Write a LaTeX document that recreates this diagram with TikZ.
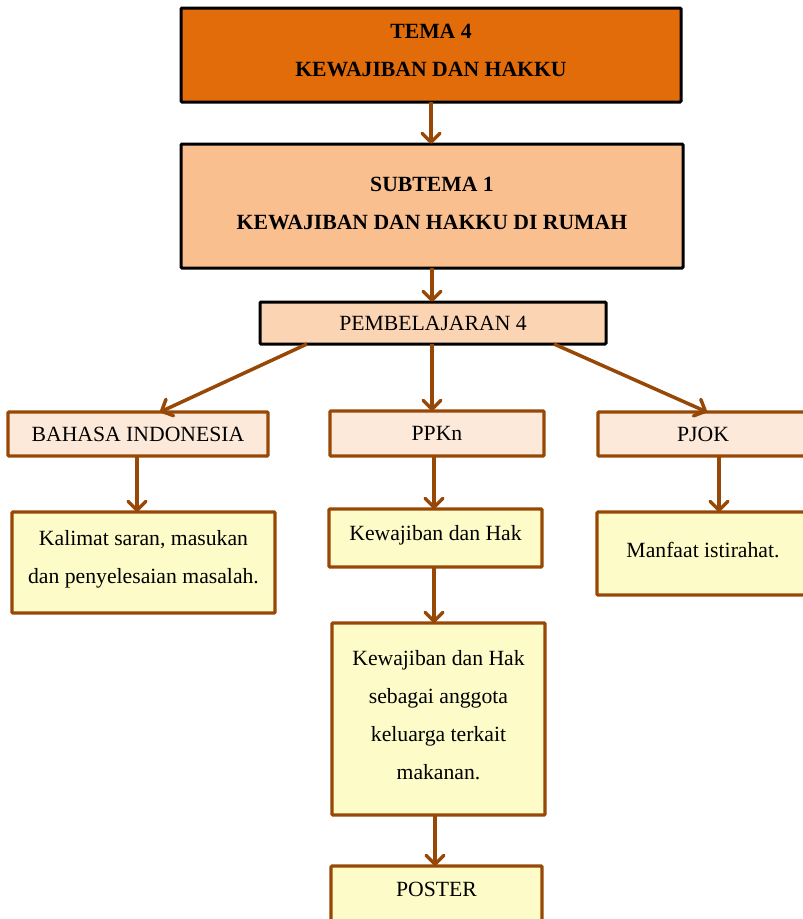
\documentclass[tikz,border=0pt]{standalone}
\usepackage{fontspec}
\setmainfont{Liberation Serif}
\usetikzlibrary{arrows.meta}
\definecolor{temaor}{HTML}{E36C0A}
\definecolor{subor}{HTML}{FABF8F}
\definecolor{pembor}{HTML}{FBD4B4}
\definecolor{mapel}{HTML}{FDE9D9}
\definecolor{isi}{HTML}{FDFBC8}
\definecolor{coklat}{HTML}{974806}
\begin{document}
\begin{tikzpicture}[x=1pt,y=-1pt,
  box/.style={rectangle, inner sep=0pt, outer sep=0pt, align=center, rounded corners=1pt,
    font=\fontsize{21.7}{37.7}\selectfont, text=black},
  topbox/.style={box, draw=black, line width=3pt},
  subbox/.style={box, draw=coklat, line width=3.2pt},
  arr/.style={draw=coklat, line width=3.5pt, -{Straight Barb[length=9pt,width=18pt,round]}}
]
\useasboundingbox (0,0) rectangle (803,919);
\fill[white] (0,0) rectangle (803,919);

\node[topbox, fill=temaor, minimum width=500pt, minimum height=94pt, text depth=10pt] (tema) at (431,55)
  {\bfseries TEMA 4\\\bfseries KEWAJIBAN DAN HAKKU};
\node[topbox, fill=subor, minimum width=502pt, minimum height=124pt, text depth=6pt] (sub) at (432,206)
  {\bfseries SUBTEMA 1\\\bfseries KEWAJIBAN DAN HAKKU DI RUMAH};
\node[topbox, fill=pembor, minimum width=346pt, minimum height=42pt, text depth=-4pt] (pemb) at (433,323)
  {PEMBELAJARAN 4};

\node[subbox, fill=mapel, minimum width=260pt, minimum height=44pt] (bi) at (138,434)
  {BAHASA INDONESIA};
\node[subbox, fill=mapel, minimum width=214pt, minimum height=45pt] (ppkn) at (437,433.5)
  {PPKn};
\node[subbox, fill=mapel, minimum width=210pt, minimum height=44pt] (pjok) at (703,434)
  {PJOK};

\node[subbox, fill=isi, minimum width=263pt, minimum height=101pt, text depth=10.7pt] (kal) at (143.5,562.5)
  {Kalimat saran, masukan\\dan penyelesaian masalah.};
\node[subbox, fill=isi, minimum width=213pt, minimum height=58pt, text depth=10.7pt] (kh) at (435.5,538)
  {Kewajiban dan Hak};
\node[subbox, fill=isi, minimum width=213pt, minimum height=192pt, text depth=8pt] (kb) at (438.5,719)
  {Kewajiban dan Hak\\sebagai anggota\\keluarga terkait\\makanan.};
\node[subbox, fill=isi, minimum width=212pt, minimum height=83pt, text depth=8pt] (man) at (703,553.5)
  {Manfaat istirahat.};
\node[subbox, fill=isi, minimum width=211pt, minimum height=84pt, text depth=38pt] (pos) at (436.5,908)
  {POSTER};

\draw[arr] (tema.south) -- (tema.south |- sub.north);
\draw[arr] (sub.south) -- (sub.south |- pemb.north);
\draw[arr] ([xshift=-126pt]pemb.south) -- ([xshift=22pt]bi.north);
\draw[arr] ([xshift=-1pt]pemb.south) -- ([xshift=-1pt]pemb.south |- ppkn.north);
\draw[arr] ([xshift=121pt]pemb.south) -- ([xshift=4pt]pjok.north);
\draw[arr] ([xshift=-1pt]bi.south) -- ([xshift=-1pt]bi.south |- kal.north);
\draw[arr] ([xshift=-3pt]ppkn.south) -- ([xshift=-3pt]ppkn.south |- kh.north);
\draw[arr] ([xshift=-1.5pt]kh.south) -- ([xshift=-1.5pt]kh.south |- kb.north);
\draw[arr] ([xshift=-3.5pt]kb.south) -- ([xshift=-3.5pt]kb.south |- pos.north);
\draw[arr] ([xshift=16pt]pjok.south) -- ([xshift=16pt]pjok.south |- man.north);
\end{tikzpicture}
\end{document}
